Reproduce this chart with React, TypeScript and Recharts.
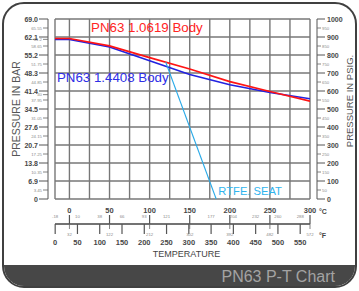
import React from 'react'
import { ComposedChart, Line, XAxis, YAxis, CartesianGrid, ReferenceDot } from 'recharts'

// temperatures in °C, pressures in bar
const body1Temp = [-18, 0, 50, 100, 150, 200, 250, 300]
const body1Bar = [61.5, 61.5, 58.7, 54.2, 49.8, 45.0, 41.2, 37.5]
const body2Temp = [-18, 0, 50, 100, 150, 200, 250, 300]
const body2Bar = [61.2, 61.2, 58.3, 53.0, 47.7, 43.8, 40.8, 38.4]
const seatTemp = [120, 183]
const seatBar = [52.5, 0]

const barMajor = [0, 6.9, 13.8, 20.7, 27.6, 34.5, 41.4, 48.3, 55.2, 62.1, 69]
const barMajorLabels = ['0', '6.9', '13.8', '20.7', '27.6', '34.5', '41.4', '48.3', '55.2', '62.1', '69.0']
const barMinor = [3.45, 10.35, 17.25, 24.15, 31.05, 37.95, 40, 44.85, 51.75, 58.65, 61.2, 65.55]

const psiMajor = [0, 100, 200, 300, 400, 500, 600, 700, 800, 900, 1000]
const psiMinor = [50, 150, 250, 350, 450, 550, 650, 750, 850, 950]

const cMajor = [0, 50, 100, 150, 200, 250, 300]
const cMinor = [-17.8, 10, 37.8, 65.6, 93.3, 121.1, 176.7, 204.4, 232.2, 260, 287.8]
const cMinorLabels = ['-18', '10', '38', '66', '93', '121', '177', '204', '232', '260', '288']
const fMajor = [0, 50, 100, 150, 200, 250, 300, 350, 400, 450, 500, 550]
const fMinor = [32, 122, 212, 302, 392, 482, 572]

const gridTemp = [-18, 0, 25, 50, 75, 100, 125, 150, 175, 200, 225, 250, 275, 300]

const toC = (f: number) => ((f - 32) * 5) / 9
const toF = (c: number) => Math.round((c * 9) / 5 + 32)

const body1 = body1Temp.map((t, i) => ({ t, p: body1Bar[i] }))
const body2 = body2Temp.map((t, i) => ({ t, p: body2Bar[i] }))
const seat = seatTemp.map((t, i) => ({ t, p: seatBar[i] }))

const FONT = '"Liberation Sans", Arial, sans-serif'
const DARK = '#474747'
const SMALL = '#8a8a8a'

const BarTick = ({ x, y, payload }: any) => {
  const v = payload.value
  const mi = barMajor.indexOf(v)
  if (mi >= 0) {
    return (
      <g>
        <line x1={x - 9} x2={x} y1={y} y2={y} stroke="#555" strokeWidth={1} />
        <text x={x - 10} y={y + 2.5} textAnchor="end" fontSize={7} fontWeight="bold" fill={DARK} fontFamily={FONT}>
          {barMajorLabels[mi]}
        </text>
      </g>
    )
  }
  return (
    <g>
      <line x1={x - 5} x2={x} y1={y} y2={y} stroke="#666" strokeWidth={0.8} />
      <text x={x - 6} y={y + 1.5} textAnchor="end" fontSize={4.3} fill={SMALL} fontFamily={FONT}>
        {v}
      </text>
    </g>
  )
}

const PsiTick = ({ x, y, payload }: any) => {
  const v = payload.value
  if (psiMajor.includes(v)) {
    return (
      <g>
        <line x1={x} x2={x + 8} y1={y} y2={y} stroke="#555" strokeWidth={1} />
        <text x={x + 10} y={y + 2.5} fontSize={7} fontWeight="bold" fill={DARK} fontFamily={FONT}>
          {v}
        </text>
      </g>
    )
  }
  return (
    <g>
      <line x1={x} x2={x + 4} y1={y} y2={y} stroke="#666" strokeWidth={0.8} />
      <text x={x + 5} y={y + 1.5} fontSize={4.3} fill={SMALL} fontFamily={FONT}>
        {v}
      </text>
    </g>
  )
}

const CTick = ({ x, y, payload }: any) => {
  const v = payload.value
  if (cMajor.includes(v)) {
    return (
      <g>
        <text x={x} y={y + 13.7} textAnchor="middle" fontSize={7.5} fontWeight="bold" fill={DARK} fontFamily={FONT}>
          {v}
        </text>
        <line x1={x} x2={x} y1={y + 16} y2={y + 25} stroke="#555" strokeWidth={1.2} />
        {v === cMajor[cMajor.length - 1] && (
          <text x={x + 9} y={y + 15} fontSize={7} fontWeight="bold" fill={DARK} fontFamily={FONT}>
            °C
          </text>
        )}
      </g>
    )
  }
  const ni = cMinor.indexOf(v)
  return (
    <text x={x} y={y + 19.3} textAnchor="middle" fontSize={4.3} fill={SMALL} fontFamily={FONT}>
      {cMinorLabels[ni]}
    </text>
  )
}

// °F ticks sit on an axis that shares the °C domain
const FTick = ({ x, y, payload }: any) => {
  const f = toF(payload.value)
  if (fMajor.includes(f)) {
    return (
      <g>
        <line x1={x} x2={x} y1={y} y2={y + 10} stroke="#555" strokeWidth={1.2} />
        <text x={x} y={y + 21} textAnchor="middle" fontSize={7.5} fontWeight="bold" fill={DARK} fontFamily={FONT}>
          {f}
        </text>
      </g>
    )
  }
  return (
    <g>
      <line x1={x} x2={x} y1={y} y2={y + 5} stroke="#666" strokeWidth={0.8} />
      <text x={x} y={y + 11.7} textAnchor="middle" fontSize={4.3} fill={SMALL} fontFamily={FONT}>
        {f}
      </text>
      {f === fMinor[fMinor.length - 1] && (
        <text x={x + 9} y={y + 14} fontSize={7} fontWeight="bold" fill={DARK} fontFamily={FONT}>
          °F
        </text>
      )}
    </g>
  )
}

const bodyLabel = (value: string, fill: string, fontSize: number) => ({
  value,
  position: 'right' as const,
  offset: 0,
  fill,
  fontSize,
  fontFamily: FONT,
})

export default function App() {
  return (
    <div style={{ position: 'fixed', left: 0, top: 0, width: 359, height: 291, background: '#fff' }}>
      <div
        style={{
          position: 'absolute',
          left: 2,
          top: 2,
          width: 355,
          height: 286,
          boxSizing: 'border-box',
          border: '2.5px solid #404040',
          borderRadius: 22,
          overflow: 'hidden',
        }}
      >
        <div style={{ position: 'absolute', left: 0, right: 0, bottom: 0, height: 21, background: '#474747' }}>
          <span
            style={{
              position: 'absolute',
              right: 20,
              top: 1,
              lineHeight: '21px',
              color: '#a3a3a3',
              fontSize: 16,
              fontFamily: FONT,
            }}
          >
            PN63 P-T Chart
          </span>
        </div>
      </div>
      <div style={{ position: 'absolute', left: 0, top: 0 }}>
        <ComposedChart width={359} height={258} margin={{ top: 19, right: 0, bottom: 0, left: 0 }}>
          <CartesianGrid
            xAxisId="c"
            yAxisId="pressureBar"
            verticalValues={gridTemp}
            horizontalValues={barMajor}
            stroke="#777"
            strokeWidth={1.4}
          />
          <XAxis
            xAxisId="f"
            dataKey="t"
            type="number"
            domain={[-18, 300]}
            allowDataOverflow
            ticks={[...fMajor, ...fMinor].sort((a, b) => a - b).map(toC)}
            interval={0}
            tick={<FTick />}
            tickLine={false}
            tickSize={0}
            tickMargin={0}
            axisLine={{ stroke: '#444', strokeWidth: 1.5 }}
            height={34}
            label={{ value: 'TEMPERATURE', position: 'insideBottom', offset: 1, dx: 4, fontSize: 9, fill: '#444', fontFamily: FONT }}
          />
          <XAxis
            xAxisId="c"
            dataKey="t"
            type="number"
            domain={[-18, 300]}
            allowDataOverflow
            ticks={[...cMajor, ...cMinor].sort((a, b) => a - b)}
            interval={0}
            tick={<CTick />}
            tickLine={false}
            tickSize={0}
            tickMargin={0}
            axisLine={false}
            height={25}
          />
          <YAxis
            yAxisId="pressureBar"
            type="number"
            domain={[0, 69]}
            allowDataOverflow
            ticks={[...barMajor, ...barMinor].sort((a, b) => a - b)}
            interval={0}
            tick={<BarTick />}
            tickLine={false}
            tickSize={0}
            tickMargin={0}
            axisLine={{ stroke: '#555', strokeWidth: 1 }}
            width={48}
            label={{ value: 'PRESSURE IN BAR', angle: -90, position: 'center', dx: -8, fontSize: 10.5, fill: '#555', fontFamily: FONT }}
          />
          <YAxis
            yAxisId="psi"
            orientation="right"
            type="number"
            domain={[0, 1000]}
            allowDataOverflow
            ticks={[...psiMajor, ...psiMinor].sort((a, b) => a - b)}
            interval={0}
            tick={<PsiTick />}
            tickLine={false}
            tickSize={0}
            tickMargin={0}
            axisLine={{ stroke: '#555', strokeWidth: 1 }}
            width={42}
            label={{ value: 'PRESSURE IN PSIG.', angle: -90, position: 'center', dx: 12, dy: -8, fontSize: 9.5, fill: '#555', fontFamily: FONT }}
          />
          <YAxis yAxisId="gapLeft" type="number" domain={[0, 69]} width={7} tick={false} axisLine={false} tickLine={false} />
          <YAxis yAxisId="gapRight" orientation="right" type="number" domain={[0, 69]} width={7} tick={false} axisLine={false} tickLine={false} />
          <Line
            data={body2}
            dataKey="p"
            xAxisId="f"
            yAxisId="pressureBar"
            type="linear"
            stroke="#2222e0"
            strokeWidth={1.6}
            dot={false}
            isAnimationActive={false}
          />
          <Line
            data={body1}
            dataKey="p"
            xAxisId="c"
            yAxisId="pressureBar"
            type="linear"
            stroke="#ff1414"
            strokeWidth={1.6}
            dot={false}
            isAnimationActive={false}
          />
          <Line
            data={seat}
            dataKey="p"
            xAxisId="c"
            yAxisId="pressureBar"
            type="linear"
            stroke="#2aaae8"
            strokeWidth={1.1}
            dot={false}
            isAnimationActive={false}
          />
          <ReferenceDot
            xAxisId="c"
            yAxisId="pressureBar"
            x={27}
            y={65.9}
            r={0}
            fill="none"
            stroke="none"
            ifOverflow="visible"
            label={bodyLabel('PN63 1.0619 Body', '#ff2424', 13.3)}
          />
          <ReferenceDot
            xAxisId="c"
            yAxisId="pressureBar"
            x={-15.5}
            y={46.6}
            r={0}
            fill="none"
            stroke="none"
            ifOverflow="visible"
            label={bodyLabel('PN63 1.4408 Body', '#2e2ee6', 13.3)}
          />
          <ReferenceDot
            xAxisId="c"
            yAxisId="pressureBar"
            x={185.7}
            y={3.1}
            r={0}
            fill="none"
            stroke="none"
            ifOverflow="visible"
            label={bodyLabel('RTFE. SEAT', '#30b4ee', 11.2)}
          />
        </ComposedChart>
      </div>
    </div>
  )
}
